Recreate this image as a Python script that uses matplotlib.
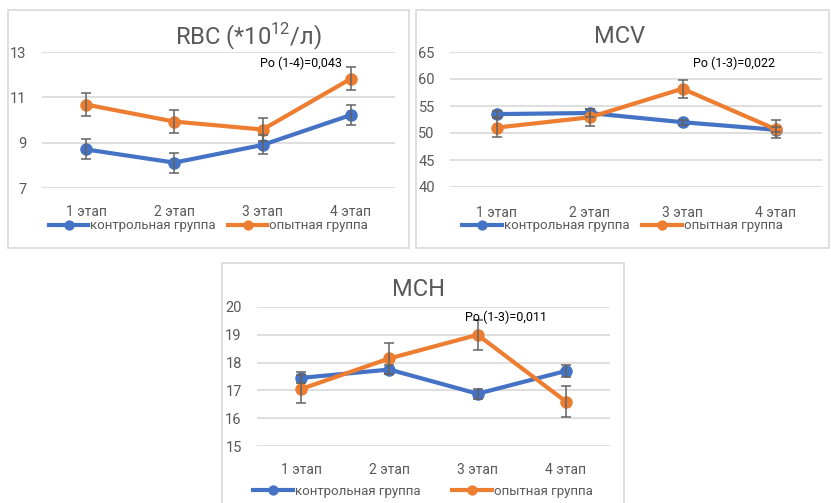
import matplotlib
matplotlib.use("Agg")
import matplotlib.pyplot as plt
from matplotlib.patches import Rectangle

plt.rcParams["font.family"] = ["Roboto", "DejaVu Sans"]
plt.rcParams["mathtext.fontset"] = "custom"
plt.rcParams["mathtext.rm"] = "Roboto"

# ── data ──
stages = ["1 этап", "2 этап", "3 этап", "4 этап"]
series_names = ["контрольная группа", "опытная группа"]

rbc_ctrl = [8.7, 8.12, 8.9, 10.22]
rbc_ctrl_err = [0.44, 0.44, 0.42, 0.45]
rbc_exp = [10.68, 9.93, 9.58, 11.82]
rbc_exp_err = [0.5, 0.51, 0.5, 0.5]

mcv_ctrl = [53.5, 53.7, 52.0, 50.6]
mcv_ctrl_err = [0.6, 0.8, 0.5, 0.5]
mcv_exp = [51.0, 52.9, 58.2, 50.7]
mcv_exp_err = [1.7, 1.55, 1.65, 1.7]

mch_ctrl = [17.45, 17.75, 16.88, 17.7]
mch_ctrl_err = [0.2, 0.15, 0.18, 0.2]
mch_exp = [17.05, 18.15, 19.0, 16.6]
mch_exp_err = [0.5, 0.57, 0.55, 0.55]

BLUE = "#4472C4"
ORANGE = "#ED7D31"
GRID = "#d9d9d9"
TEXT = "#595959"

W, H = 831, 503
fig = plt.figure(figsize=(W / 100, H / 100), dpi=100)


def px_axes(left, top, right, bottom):
    return fig.add_axes([left / W, 1 - bottom / H, (right - left) / W, (bottom - top) / H])


def frame(left, top, right, bottom):
    fig.patches.append(Rectangle((left / W, 1 - bottom / H), (right - left) / W, (bottom - top) / H,
                                 transform=fig.transFigure, fill=False,
                                 edgecolor=GRID, linewidth=1.2))


def panel(box, axbox, ylim, yticks, ctrl, ctrl_err, exp, exp_err,
          title, title_xy, note, note_xy, legend_y, colspace, xpad):
    frame(*box)
    ax = px_axes(*axbox)
    x = range(len(stages))
    lines = []
    for vals, errs, color in [(ctrl, ctrl_err, BLUE), (exp, exp_err, ORANGE)]:
        ax.errorbar(x, vals, yerr=errs, fmt="none", ecolor="#636363",
                    elinewidth=1.1, capsize=3.5, capthick=1.1, zorder=4)
        ln, = ax.plot(x, vals, color=color, lw=3, marker="o", ms=8, zorder=3)
        lines.append(ln)
    ax.set_xlim(-0.5, len(stages) - 0.5)
    ax.set_ylim(*ylim)
    ax.set_yticks(yticks)
    ax.set_xticks(list(x))
    ax.set_xticklabels(stages)
    ax.yaxis.grid(True, color=GRID, lw=1.2)
    ax.set_axisbelow(True)
    for s in ax.spines.values():
        s.set_visible(False)
    ax.tick_params(axis="y", length=0, pad=11, labelsize=10.5, labelcolor=TEXT)
    ax.tick_params(axis="x", length=0, pad=xpad, labelsize=10, labelcolor=TEXT)

    fig.text(title_xy[0] / W, 1 - title_xy[1] / H, title, ha="center", va="center",
             fontsize=17, color=TEXT)
    ax.text(note_xy[0], note_xy[1], note, ha="left", va="center", fontsize=9, color="black",
            zorder=5)

    cx = (box[0] + box[2]) / 2
    leg = fig.legend(lines, series_names, loc="center", ncol=2,
                     bbox_to_anchor=(cx / W, 1 - legend_y / H), frameon=False,
                     fontsize=9.5, handlelength=3.0, handletextpad=0.15,
                     columnspacing=colspace, markerscale=0.8)
    for t in leg.get_texts():
        t.set_color(TEXT)
    return ax


# RBC
panel((8, 10, 409, 248), (42, 52, 395, 188), (7, 13), [7, 9, 11, 13],
      rbc_ctrl, rbc_ctrl_err, rbc_exp, rbc_exp_err,
      "RBC (*10$^{12}$/л)", (248, 37), "Ро (1-4)=0,043", (1.97, 12.5),
      226, 0.9, 12)

# MCV
panel((416, 10, 829, 248), (450, 52, 822, 187), (40, 65), [40, 45, 50, 55, 60, 65],
      mcv_ctrl, mcv_ctrl_err, mcv_exp, mcv_exp_err,
      "MCV", (620, 37), "Ро (1-3)=0,022", (2.11, 62.95),
      226, 1.0, 14)

# MCH
panel((222, 263, 624, 510), (257, 307, 610, 446), (15, 20), [15, 16, 17, 18, 19, 20],
      mch_ctrl, mch_ctrl_err, mch_exp, mch_exp_err,
      "MCH", (419, 290), "Ро (1-3)=0,011", (1.86, 19.64),
      491, 2.4, 12)

fig.savefig("out.png", dpi=100)
